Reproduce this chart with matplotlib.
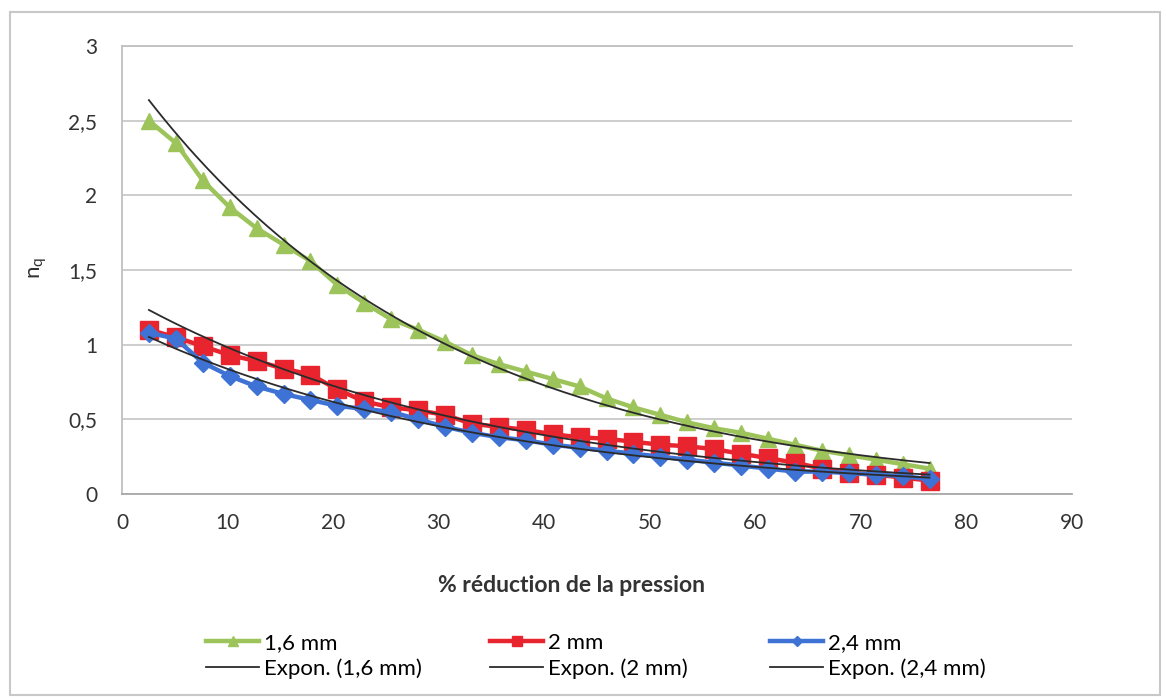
import numpy as np
import matplotlib
matplotlib.use("Agg")
import matplotlib.pyplot as plt
from matplotlib.patches import Rectangle

plt.rcParams['font.family'] = ['Lato', 'DejaVu Sans']
plt.rcParams['mathtext.fontset'] = 'custom'
plt.rcParams['mathtext.rm'] = 'Lato'

# Data
reduction = [2.55, 5.1, 7.65, 10.2, 12.75, 15.3, 17.85, 20.4, 22.95, 25.5,
             28.05, 30.6, 33.15, 35.7, 38.25, 40.8, 43.35, 45.9, 48.45, 51.0,
             53.55, 56.1, 58.65, 61.2, 63.75, 66.3, 68.85, 71.4, 73.95, 76.5]
nq_16 = [2.50, 2.35, 2.10, 1.92, 1.78, 1.67, 1.56, 1.40, 1.28, 1.17,
         1.10, 1.02, 0.93, 0.87, 0.82, 0.77, 0.72, 0.64, 0.58, 0.53,
         0.48, 0.44, 0.41, 0.37, 0.33, 0.29, 0.26, 0.23, 0.20, 0.17]
nq_20 = [1.10, 1.05, 0.99, 0.93, 0.89, 0.84, 0.80, 0.70, 0.62, 0.58,
         0.56, 0.53, 0.47, 0.45, 0.43, 0.40, 0.38, 0.37, 0.35, 0.33,
         0.32, 0.30, 0.27, 0.24, 0.21, 0.17, 0.14, 0.13, 0.11, 0.09]
nq_24 = [1.08, 1.04, 0.88, 0.79, 0.72, 0.67, 0.63, 0.59, 0.57, 0.55,
         0.50, 0.45, 0.41, 0.38, 0.36, 0.33, 0.31, 0.29, 0.27, 0.25,
         0.23, 0.21, 0.19, 0.17, 0.15, 0.15, 0.14, 0.13, 0.12, 0.10]
series_labels = ['1,6 mm', '2 mm', '2,4 mm']
trend_labels = ['Expon. (1,6 mm)', 'Expon. (2 mm)', 'Expon. (2,4 mm)']
x_ticks = [0, 10, 20, 30, 40, 50, 60, 70, 80, 90]
y_ticks = [0, 0.5, 1, 1.5, 2, 2.5, 3]
y_ticklabels = ['0', '0,5', '1', '1,5', '2', '2,5', '3']

colors = ['#9cc45a', '#e8252f', '#3e72d4']
markers = ['^', 's', 'D']
msizes = [12, 13, 9]

W, H = 1166, 700
fig = plt.figure(figsize=(W / 100, H / 100), dpi=100)
fig.patch.set_facecolor('white')
fig.add_artist(Rectangle((10 / W, 5 / H), 1150 / W, 683 / H, transform=fig.transFigure,
                         fill=False, edgecolor='#c8c8c8', linewidth=1.5))
ax = fig.add_axes([122 / W, 1 - 494 / H, 950 / W, 448 / H])

x = np.array(reduction)
pairs = []
for ys, c, m, ms, lab, tlab in zip([nq_16, nq_20, nq_24], colors, markers, msizes,
                                   series_labels, trend_labels):
    ys = np.array(ys)
    h, = ax.plot(x, ys, color=c, marker=m, markersize=ms, linewidth=3.2, label=lab, zorder=3)
    b, a = np.polyfit(x, np.log(ys), 1)
    xt = np.linspace(x.min(), x.max(), 200)
    t, = ax.plot(xt, np.exp(a) * np.exp(b * xt), color='#2b2b2b', linewidth=1.3,
                 label=tlab, zorder=4)
    pairs.append((h, t))

ax.set_xlim(0, 90)
ax.set_ylim(0, 3)
ax.set_xticks(x_ticks)
ax.set_yticks(y_ticks)
ax.set_yticklabels(y_ticklabels)
ax.tick_params(axis='y', length=0, labelsize=15, colors='#333333', pad=18)
ax.tick_params(axis='x', length=0, labelsize=15, colors='#333333', pad=14)
ax.yaxis.grid(True, color='#c9c9c9', linewidth=1.3)
ax.set_axisbelow(True)
for s in ['left', 'top']:
    ax.spines[s].set_color('#c0c0c0')
    ax.spines[s].set_linewidth(1.3)
ax.spines['right'].set_visible(False)
ax.spines['bottom'].set_color('#a8a8a8')
ax.spines['bottom'].set_linewidth(1.3)

fig.text(572 / W, 1 - 586 / H, '% réduction de la pression', fontsize=16.5,
         fontweight='bold', color='#333333', ha='center', va='center')
fig.text(38 / W, 1 - 268 / H, r'n$_\mathrm{q}$', fontsize=16, color='#333333', rotation=90,
         ha='center', va='center')

col_x = [206, 490, 770]
for cx, (h, t) in zip(col_x, pairs):
    fig.legend(handles=[h, t], loc='center left', bbox_to_anchor=(cx / W, 1 - 656 / H),
               frameon=False, fontsize=16, handlelength=2.4, handletextpad=0.2,
               labelspacing=0.25, borderpad=0, borderaxespad=0, markerscale=0.6)

fig.savefig('out.png', dpi=100, facecolor='white')
